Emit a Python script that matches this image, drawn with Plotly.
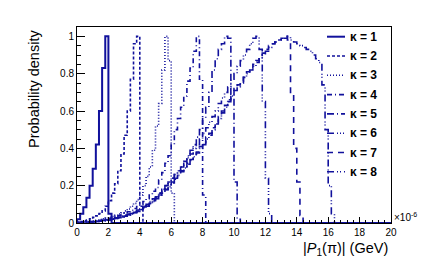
import plotly.graph_objects as go

# ---- data (momentum in units of 1e-6 GeV, bins of 0.2) ----
bin_width = 0.2
x_min, x_max = 0.0, 20.0
kappa_labels = ["κ = 1", "κ = 2", "κ = 3", "κ = 4", "κ = 5", "κ = 6", "κ = 7", "κ = 8"]
x_tick_vals = [0, 2, 4, 6, 8, 10, 12, 14, 16, 18, 20]
y_tick_vals = [0, 0.2, 0.4, 0.6, 0.8, 1]

h_k1 = [0.02, 0.05, 0.085, 0.135, 0.20, 0.29, 0.42, 0.60, 0.83, 1.00, 0.05]
h_k2 = [0.005, 0.008, 0.012, 0.016, 0.022, 0.03, 0.038, 0.05, 0.065, 0.09,
        0.12, 0.16, 0.21, 0.28, 0.37, 0.47, 0.60, 0.77, 0.96, 1.00, 0.09]
h_k3 = [0.003, 0.005, 0.006, 0.008, 0.01, 0.012, 0.015, 0.018, 0.022, 0.026,
        0.03, 0.035, 0.041, 0.048, 0.055, 0.065, 0.075, 0.09, 0.105, 0.125,
        0.15, 0.20, 0.25, 0.30, 0.39, 0.52, 0.64, 0.82, 1.00, 0.87, 0.16]
h_k4 = [0.002, 0.003, 0.005, 0.006, 0.008, 0.01, 0.012, 0.015, 0.018, 0.021,
        0.025, 0.029, 0.034, 0.04, 0.045, 0.052, 0.06, 0.068, 0.078, 0.088,
        0.10, 0.115, 0.13, 0.15, 0.17, 0.19, 0.23, 0.27, 0.32, 0.36,
        0.42, 0.50, 0.56, 0.62, 0.68, 0.76, 0.83, 0.92, 1.00, 0.77, 0.15]
h_k5 = [0.001, 0.002, 0.003, 0.005, 0.006, 0.008, 0.01, 0.012, 0.014, 0.017,
        0.02, 0.024, 0.028, 0.032, 0.037, 0.042, 0.048, 0.055, 0.062, 0.07,
        0.08, 0.09, 0.10, 0.115, 0.13, 0.145, 0.16, 0.18, 0.20, 0.22,
        0.24, 0.26, 0.28, 0.30, 0.33, 0.36, 0.39, 0.42, 0.46, 0.50,
        0.56, 0.62, 0.70, 0.82, 0.88, 0.93, 0.96, 1.00, 0.99, 0.69,
        0.22, 0.02]
h_k6 = [0.001, 0.002, 0.003, 0.004, 0.006, 0.007, 0.009, 0.011, 0.013, 0.016,
        0.019, 0.022, 0.026, 0.03, 0.034, 0.039, 0.045, 0.051, 0.058, 0.066,
        0.075, 0.086, 0.098, 0.11, 0.125, 0.14, 0.16, 0.18, 0.20, 0.22,
        0.24, 0.26, 0.28, 0.30, 0.32, 0.35, 0.37, 0.40, 0.42, 0.45,
        0.48, 0.51, 0.54, 0.57, 0.60, 0.64, 0.67, 0.70, 0.73, 0.77,
        0.80, 0.84, 0.87, 0.90, 0.93, 0.96, 0.99, 1.00, 0.93, 0.65,
        0.24, 0.05]
h_k7 = [0.001, 0.002, 0.003, 0.004, 0.005, 0.007, 0.008, 0.01, 0.012, 0.015,
        0.018, 0.021, 0.025, 0.029, 0.033, 0.038, 0.044, 0.05, 0.057, 0.064,
        0.072, 0.082, 0.093, 0.105, 0.12, 0.135, 0.15, 0.165, 0.18, 0.20,
        0.22, 0.24, 0.26, 0.28, 0.30, 0.32, 0.34, 0.36, 0.38, 0.41,
        0.43, 0.46, 0.48, 0.51, 0.54, 0.57, 0.60, 0.63, 0.66, 0.69,
        0.72, 0.74, 0.76, 0.78, 0.81, 0.83, 0.85, 0.87, 0.89, 0.91,
        0.93, 0.95, 0.96, 0.97, 0.98, 0.99, 1.00, 0.98, 0.70, 0.40,
        0.22, 0.04]
h_k8 = [0.001, 0.001, 0.002, 0.004, 0.005, 0.006, 0.008, 0.01, 0.012, 0.014,
        0.017, 0.02, 0.024, 0.028, 0.032, 0.037, 0.042, 0.048, 0.055, 0.062,
        0.07, 0.08, 0.09, 0.10, 0.115, 0.13, 0.145, 0.16, 0.178, 0.195,
        0.215, 0.235, 0.255, 0.275, 0.295, 0.315, 0.335, 0.355, 0.375, 0.40,
        0.42, 0.45, 0.47, 0.50, 0.53, 0.56, 0.59, 0.62, 0.65, 0.68,
        0.71, 0.73, 0.75, 0.78, 0.80, 0.82, 0.84, 0.86, 0.88, 0.90,
        0.92, 0.94, 0.96, 0.97, 0.98, 0.99, 0.99, 1.00, 0.98, 0.97,
        0.96, 0.95, 0.94, 0.93, 0.92, 0.90, 0.88, 0.86, 0.74, 0.50,
        0.20, 0.05]

series = [h_k1, h_k2, h_k3, h_k4, h_k5, h_k6, h_k7, h_k8]

# ---- styles ----
color = "#11119c"
dashes = ["solid", "3px,2px", "1px,2px", "5px,3px,1px,3px", "7px,3px,1px,3px",
          "7px,3px,1px,2px,1px,2px,1px,3px", "6px,5px", "7px,3px,1px,2px,1px,3px"]
widths = [2, 1.6, 1.6, 1.6, 1.6, 1.6, 1.6, 1.6]
font = "Liberation Sans, Arial, Helvetica, sans-serif"

n_bins = int(round((x_max - x_min) / bin_width))
edges = [x_min + i * bin_width for i in range(n_bins + 1)]

fig = go.Figure()
for vals, name, dash, w in zip(series, kappa_labels, dashes, widths):
    full = list(vals) + [0.0] * (n_bins - len(vals))
    xs = [x_min] + edges[:-1] + [x_max]
    ys = [0.0] + full + [full[-1]]
    fig.add_trace(go.Scatter(x=xs, y=ys, mode="lines", name=name,
                             line=dict(shape="hv", color=color, width=w, dash=dash),
                             showlegend=False, hoverinfo="skip"))

W, H = 434, 271
ml, mr, mt, mb = 77, 43, 27, 48
pw, ph = W - ml - mr, H - mt - mb

def px_x(p):
    return (p - ml) / pw

def px_y(p):
    return (H - mb - p) / ph

# manual legend (ROOT-style, short line keys)
for i, (name, dash, w) in enumerate(zip(kappa_labels, dashes, widths)):
    yy = px_y(36.7 + 19.3 * i)
    fig.add_shape(type="line", xref="paper", yref="paper",
                  x0=px_x(327), x1=px_x(345), y0=yy, y1=yy,
                  line=dict(color=color, width=w, dash=dash))
    fig.add_annotation(xref="paper", yref="paper", x=px_x(348), y=yy,
                       text="<b>" + name + "</b>", showarrow=False,
                       xanchor="left", yanchor="middle",
                       font=dict(family=font, size=12, color="black"))

axis_common = dict(showline=True, linecolor="black", linewidth=1, mirror=True,
                   ticks="inside", tickcolor="black", showgrid=False,
                   zeroline=False, tickfont=dict(family=font, size=10, color="black"))

fig.update_xaxes(range=[x_min, x_max], tickvals=x_tick_vals, ticklen=6,
                 ticklabelstandoff=0,
                 minor=dict(dtick=0.4, ticks="inside", ticklen=3, tickcolor="black"),
                 **axis_common)
fig.update_yaxes(range=[0, 1.05], tickvals=y_tick_vals, ticktext=["0", "0.2", "0.4", "0.6", "0.8", "1"],
                 ticklen=8,
                 minor=dict(dtick=0.05, ticks="inside", ticklen=4, tickcolor="black"),
                 **axis_common)

# axis titles / exponent
fig.add_annotation(xref="paper", yref="paper", x=px_x(390), y=px_y(238),
                   text="|<i>P</i><sub>1</sub>(π)| (GeV)", showarrow=False,
                   xanchor="right", yanchor="top",
                   font=dict(family=font, size=14.5, color="black"))
fig.add_annotation(xref="paper", yref="paper", x=px_x(34), y=px_y(28),
                   text="Probability density", showarrow=False, textangle=-90,
                   xanchor="center", yanchor="top",
                   font=dict(family=font, size=14.5, color="black"))
fig.add_annotation(xref="paper", yref="paper", x=px_x(392), y=px_y(217),
                   text="×10<sup>-6</sup>", showarrow=False,
                   xanchor="left", yanchor="middle",
                   font=dict(family=font, size=10, color="black"))

fig.update_layout(width=W, height=H, margin=dict(l=ml, r=mr, t=mt, b=mb),
                  paper_bgcolor="white", plot_bgcolor="white", showlegend=False)

fig.write_html("out.html", config={"displayModeBar": False, "staticPlot": True},
               post_script="document.body.style.margin='0';document.body.style.padding='0';")
